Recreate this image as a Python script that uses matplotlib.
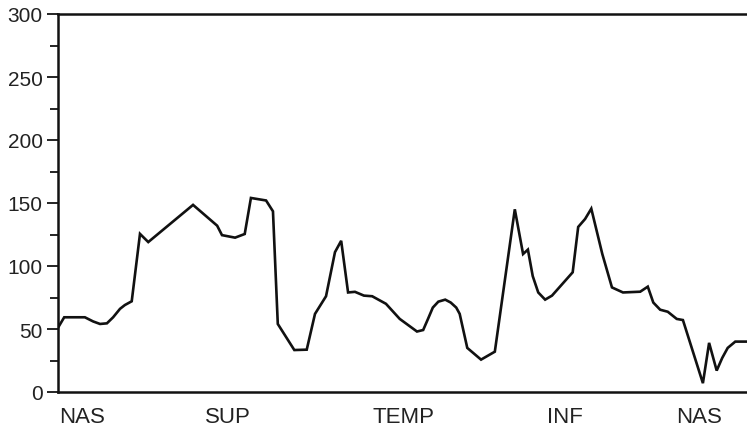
import matplotlib
matplotlib.use("Agg")
import matplotlib.pyplot as plt
from matplotlib.ticker import MultipleLocator

# position along the axis (0-100) and value
positions = [
    0, 0.9, 3.9, 5.1, 6.1, 7.1, 8.0, 9.0, 9.7, 10.7, 11.9, 13.1, 19.6, 23.1, 23.8,
    25.7, 27.1, 28.0, 30.2, 31.2, 31.9, 34.3, 36.1, 37.3, 38.9, 40.2, 41.1, 42.1,
    43.1, 44.4, 45.6, 47.6, 49.6, 52.1, 53.0, 53.7, 54.4, 55.2, 56.2, 57.0, 57.8,
    58.3, 59.4, 61.4, 63.4, 66.3, 67.5, 68.2, 68.9, 69.7, 70.7, 71.7, 74.7, 75.5,
    76.5, 77.4, 79.0, 80.4, 82.0, 84.5, 85.6, 86.4, 87.4, 88.5, 89.8, 90.7, 93.6,
    94.5, 95.6, 96.4, 97.2, 98.3, 100,
]
values = [
    51, 59.3, 59.3, 56, 54, 54.5, 59.3, 66, 69, 72, 125.5, 119, 148.5, 132, 124.5,
    122.5, 125.4, 154, 152, 143.4, 54, 33.3, 33.6, 62, 76, 111, 120, 79,
    79.5, 76.5, 76, 70, 58, 48, 49.2, 58, 67, 71.7, 73.3, 71, 67,
    62, 35, 25.7, 32, 145, 109.5, 113, 92, 79, 73.3, 76.5, 95, 131,
    137.3, 145.5, 109.5, 83, 79, 79.6, 83.6, 71, 65.3, 63.7, 58, 57.1, 7,
    39, 17, 27, 35, 40, 40,
]
region_pos = [3.5, 24.7, 50.1, 73.6, 93.0]
region_labels = ["NAS", "SUP", "TEMP", "INF", "NAS"]

plt.rcParams["font.family"] = ["Liberation Sans", "DejaVu Sans"]

fig = plt.figure(figsize=(7.47, 4.31), dpi=100)
ax = fig.add_axes([58 / 747, 38 / 431, 1 - 58 / 747, 378 / 431])
ax.plot(positions, values, color="#111111", linewidth=1.9, solid_joinstyle="miter")

ax.set_xlim(0, 100)
ax.set_ylim(0, 300)
ax.yaxis.set_major_locator(MultipleLocator(50))
ax.yaxis.set_minor_locator(MultipleLocator(25))
ax.tick_params(axis="y", which="major", length=8, width=1.2, labelsize=15, pad=3, labelcolor="#222222")
ax.tick_params(axis="y", which="minor", length=6, width=1.2)
ax.set_xticks(region_pos)
ax.set_xticklabels(region_labels)
ax.tick_params(axis="x", length=0, labelsize=16, pad=10, labelcolor="#222222")

ax.spines["right"].set_visible(False)
for side in ("left", "top", "bottom"):
    ax.spines[side].set_linewidth(1.8)
    ax.spines[side].set_color("#111111")

fig.savefig("out.png", dpi=100)
